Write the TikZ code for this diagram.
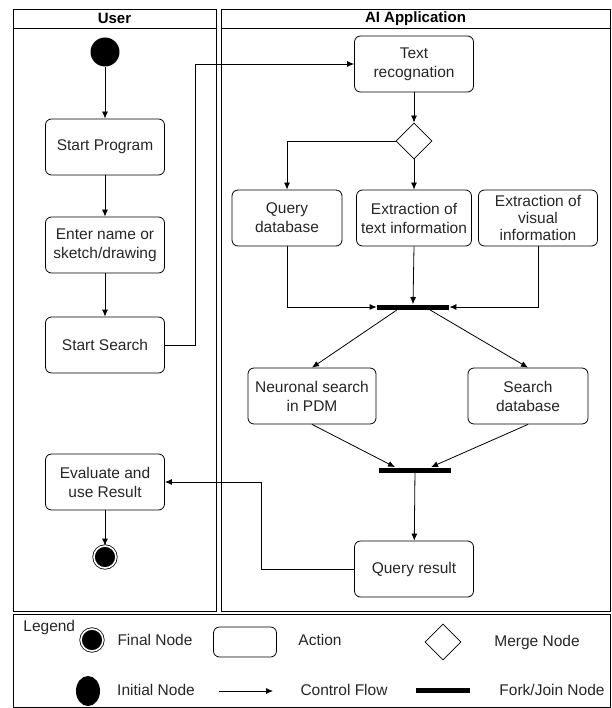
\documentclass[tikz,border=0pt]{standalone}
\usepackage{fontspec}
\setmainfont{Liberation Sans}
\usetikzlibrary{shapes.geometric,arrows.meta}
\begin{document}
\begin{tikzpicture}[x=1pt,y=-1pt,
  font=\fontsize{15.5}{19}\selectfont,
  line width=0.8pt,
  >={Latex[length=7pt,width=6pt]},
  act/.style={draw, rectangle, rounded corners=6pt, align=center, minimum width=119pt, minimum height=56pt, inner sep=1pt, text=black!85},
  bar/.style={fill=black, rectangle, inner sep=0pt, minimum height=5pt},
  startnode/.style={fill=black, circle, inner sep=0pt, minimum size=29pt},
  endnode/.style={fill=black, circle, draw, double=white, double distance=1.6pt, inner sep=0pt, minimum size=22pt},
  merge/.style={draw, diamond, aspect=1, inner sep=0pt, minimum size=36pt},
  legtext/.style={text=black!85}]
\useasboundingbox (0,0) rectangle (611,708);
% swimlanes
\draw (13,9) rectangle (216,611);
\draw (13,28) -- (216,28);
\node[font=\fontsize{15}{18}\selectfont\bfseries] (userhead) at (114.5,18.5) {User};
\draw (221,9) rectangle (610,611);
\draw (221,28) -- (610,28);
\node[font=\fontsize{15}{18}\selectfont\bfseries] (aihead) at (415.5,18.5) {AI Application};
% user lane
\node[startnode] (init) at (105,52) {};
\node[act] (prog) at (105,147) {Start Program};
\node[act] (enter) at (105,245) {Enter name or\\sketch/drawing};
\node[act] (search) at (105,345) {Start Search};
\node[act] (eval) at (105,482) {Evaluate and\\use Result};
\node[endnode] (fin) at (105,557) {};
\draw[->] (init) -- (prog);
\draw[->] (prog) -- (enter);
\draw[->] (enter) -- (search);
\draw[->] (eval) -- (fin);
% ai lane
\node[act] (textrec) at (414,64) {Text\\recognation};
\node[merge] (m) at (414,141) {};
\node[act, minimum width=110pt] (query) at (287,218) {Query\\database};
\node[act, minimum width=115pt] (exttext) at (414,218) {Extraction of\\text information};
\node[act, font=\fontsize{15.5}{17}\selectfont] (extvis) at (538,218) {Extraction of\\visual\\information};
\node[bar, minimum width=72pt] (fork) at (413,307) {};
\node[act, minimum width=128pt] (neuro) at (312,396) {Neuronal search\\in PDM};
\node[act, minimum width=120pt] (sdb) at (528,396) {Search\\database};
\node[bar, minimum width=72pt] (join) at (415,470) {};
\node[act] (result) at (414,569) {Query result};
\draw[->] (search.east) -- ++(30,0) |- (textrec.west);
\draw[->] (textrec) -- (m);
\draw[->] (m.west) -| (query.north);
\draw[->] (m) -- (exttext);
\draw[->] (query.south) |- (fork.west);
\draw[->] (exttext.south) -- (fork.north);
\draw[->] (extvis.south) |- (fork.east);
\draw[->] ([xshift=-16pt]fork.south) -- (neuro.north);
\draw[->] ([xshift=17pt]fork.south) -- (sdb.north);
\draw[->] (neuro.south) -- ([xshift=-20pt]join.north);
\draw[->] (sdb.south) -- ([xshift=16pt]join.north);
\draw[->] (join) -- (result);
\draw[->] (result.west) -- ++(-93,0) |- (eval.east);
% legend
\draw (13,614) rectangle (610,707);
\node[legtext, anchor=north west, inner sep=0pt] (legend) at (23,620) {Legend};
\node[endnode] (lfin) at (92,640) {};
\node[legtext] (lfintext) at (155,640) {Final Node};
\node[act, minimum width=63pt, minimum height=30pt] (lact) at (245,642) {};
\node[legtext] (lacttext) at (320,640) {Action};
\node[merge] (lmerge) at (443,642) {};
\node[legtext] (lmergetext) at (537,642) {Merge Node};
\node[fill=black, ellipse, inner sep=0pt, minimum width=24pt, minimum height=30pt] (linit) at (88,691) {};
\node[legtext] (linittext) at (156,690) {Initial Node};
\coordinate (la) at (219,691);
\coordinate (lb) at (273,691);
\draw[->] (la) -- (lb);
\node[legtext] (lflowtext) at (344,690) {Control Flow};
\node[bar, minimum width=54pt] (lbar) at (443,690) {};
\node[legtext] (lbartext) at (552,690) {Fork/Join Node};
\end{tikzpicture}
\end{document}
